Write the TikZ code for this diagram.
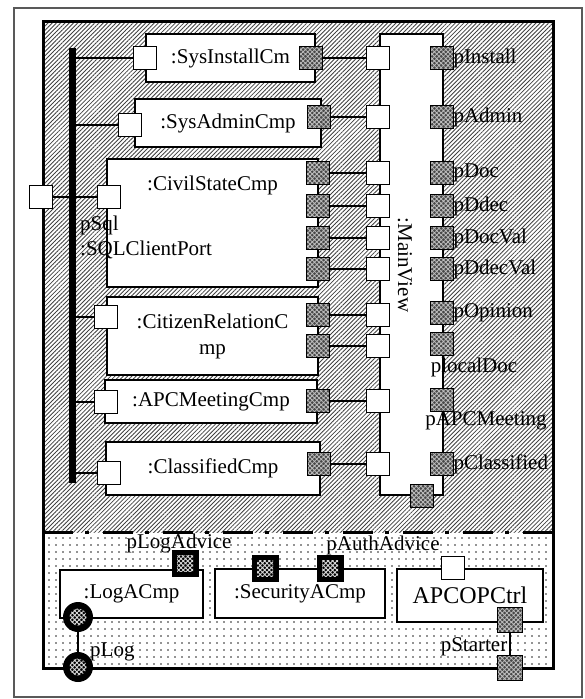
\documentclass[tikz,border=0pt]{standalone}
\usepackage{fontspec}
\setmainfont{Liberation Serif}
\usetikzlibrary{patterns,patterns.meta}
\begin{document}
\begin{tikzpicture}[x=1pt,y=-1pt,
  every node/.style={font=\fontsize{21}{26}\selectfont},
  ln/.style={line width=1.4pt},
  cmp/.style={draw,line width=1.5pt,fill=white,inner sep=0pt},
  lbl/.style={inner sep=0pt},
  wport/.style={draw,line width=1.5pt,fill=white,minimum size=23pt,inner sep=0pt},
  dport/.style={draw,line width=1.6pt,fill=black!72,minimum size=23pt,inner sep=0pt,
     path picture={\fill[pattern={Hatch[angle=45,distance=3.2pt,line width=0.8pt]},pattern color=black!25]
       (path picture bounding box.south west) rectangle (path picture bounding box.north east);}},
  bport/.style={fill=black,minimum size=27pt,inner sep=0pt,
     path picture={\fill[pattern={Hatch[angle=45,distance=3.2pt,line width=0.9pt]},pattern color=black!15]
       ([shift={(-8pt,-8pt)}]path picture bounding box.center) rectangle ([shift={(8pt,8pt)}]path picture bounding box.center);}},
  bcirc/.style={circle,fill=black,minimum size=30pt,inner sep=0pt,
     path picture={\fill[pattern={Hatch[angle=45,distance=3.2pt,line width=0.9pt]},pattern color=black!15]
       (path picture bounding box.center) circle (8.5pt);}},
]
\useasboundingbox (0,0) rectangle (584,699);
% outer frame
\draw[line width=1.3pt,black!65] (14,8) rectangle (582,697);
% regions
\fill[pattern={Lines[angle=45,distance=3pt,line width=0.85pt]},pattern color=black!75] (43,21) rectangle (553,532);
\fill[pattern={Dots[distance=7pt,radius=0.9pt]},pattern color=black!85] (43,532) rectangle (553,668);
\draw[line width=3pt,dash pattern=on 30pt off 12pt on 4pt off 14pt] (43,532) -- (553,532);
\draw[line width=3pt] (43,21) rectangle (553,668);

% bus
\node[fill=black,minimum width=7pt,minimum height=435pt,inner sep=0pt] (bus) at (72,265.5) {};

% components
\node[cmp,minimum width=169pt,minimum height=48pt] (sysI) at (230.5,58) {:SysInstallCm};
\node[cmp,minimum width=186pt,minimum height=48pt] (sysA) at (228,123) {:SysAdminCmp};
\node[cmp,minimum width=211pt,minimum height=128pt] (civ) at (212.5,223) {};
\node[lbl] (civT) at (212.5,185) {:CivilStateCmp};
\node[cmp,minimum width=211pt,minimum height=78pt,align=center] (cit) at (212.5,336) {:CitizenRelationC\\mp};
\node[cmp,minimum width=212pt,minimum height=43pt] (apc) at (211,401.5) {:APCMeetingCmp};
\node[cmp,minimum width=214pt,minimum height=53pt] (cls) at (213,468.5) {:ClassifiedCmp};
\node[cmp,minimum width=63pt,minimum height=461pt] (mv) at (411.5,264.5) {};
\node[lbl,rotate=-90] (mvT) at (405,265) {:MainView};

\node[lbl,anchor=west] (sqlA) at (80,225) {pSql};
\node[lbl,anchor=west] (sqlB) at (80,250) {:SQLClientPort};

% left ports
\node[wport] (ext) at (41,197) {};
\node[wport] (wI) at (145,58) {};
\node[wport] (wA) at (130,125) {};
\node[wport] (wC) at (109,197) {};
\node[wport] (wR) at (106,317) {};
\node[wport] (wP) at (106,402) {};
\node[wport] (wK) at (109,473) {};
\draw[ln] (wI.west) -- (wI.west -| bus.east);
\draw[ln] (wA.west) -- (wA.west -| bus.east);
\draw[ln] (ext.east) -- (wC.west);
\draw[ln] (wR.west) -- (wR.west -| bus.east);
\draw[ln] (wP.west) -- (wP.west -| bus.east);
\draw[ln] (wK.west) -- (wK.west -| bus.east);

% component right ports and MainView left ports
\foreach \n/\x/\y in {I/311/58, A/319/117, C1/318/173, C2/318/206, C3/318/238, C4/318/269, R1/318/315, R2/318/346, P/318/401, K/319/464}{
  \node[dport] (d\n) at (\x,\y) {};
  \node[wport] (m\n) at (378,\y) {};
  \draw[ln] (d\n.east) -- (m\n.west);
}

% MainView right ports
\foreach \n/\y in {pInstall/58, pAdmin/117, pDoc/173, pDdec/206, pDocVal/238, pDdecVal/269, pOpinion/313, plocalDoc/344, pAPCMeeting/400, pClassified/464}{
  \node[dport] (r\n) at (442,\y) {};
}
\node[dport] (mvB) at (422,496) {};
\foreach \n in {pInstall, pAdmin, pDoc, pDdec, pDocVal, pDdecVal, pOpinion, pClassified}{
  \node[lbl,anchor=west] (t\n) at ([xshift=-1pt]r\n.east) {\n};
}
\node[lbl] (tplocalDoc) at (474,367) {plocalDoc};
\node[lbl] (tpAPCMeeting) at (486,421) {pAPCMeeting};

% bottom section
\node[cmp,minimum width=143pt,minimum height=48pt] (log) at (131.5,594) {:LogACmp};
\node[cmp,minimum width=170pt,minimum height=49pt] (sec) at (300,593.5) {:SecurityACmp};
\node[cmp,minimum width=146pt,minimum height=53pt,font=\fontsize{24}{28}\selectfont] (ctl) at (470,595.5) {APCOPCtrl};

\node[bport] (pla) at (185,563) {};
\node[lbl] (tpla) at (179,543) {pLogAdvice};
\node[bport] (s1) at (265,568) {};
\node[bport] (s2) at (330,568) {};
\node[lbl] (tpaa) at (383,545) {pAuthAdvice};

\draw[ln] (78,617) coordinate (lc1) -- (78,667) coordinate (lc2);
\node[bcirc] (pl1) at (lc1) {};
\node[bcirc] (pl2) at (lc2) {};
\node[lbl,anchor=west] (tpl) at (90,652) {pLog};

\node[wport] (cw) at (453,568) {};
\node[dport,minimum size=25pt] (st1) at (510,620) {};
\node[dport,minimum size=25pt] (st2) at (510,668) {};
\draw[ln] (st1.south) -- (st2.north);
\node[lbl] (tst) at (474,647) {pStarter};
\end{tikzpicture}
\end{document}
